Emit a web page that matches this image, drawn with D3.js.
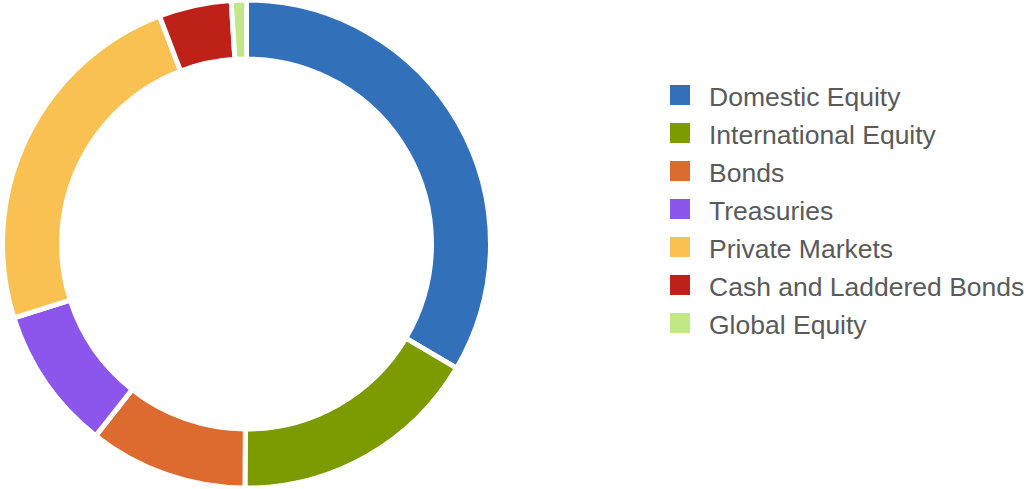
<!DOCTYPE html>
<html>
<head>
<meta charset="utf-8">
<script src="https://cdn.jsdelivr.net/npm/d3@7/dist/d3.min.js"></script>
<style>
  html, body { margin: 0; padding: 0; background: #fff; }
  svg { display: block; }
</style>
</head>
<body>
<svg id="chart" width="1024" height="489"></svg>
<script>
const categories = ["Domestic Equity", "International Equity", "Bonds", "Treasuries", "Private Markets", "Cash and Laddered Bonds", "Global Equity"];
const values = [33.5, 16.6, 10.5, 9.5, 24.1, 4.8, 1.0];
const colors = ["#3270B9", "#7B9B00", "#DD6B30", "#8C55EC", "#F9C052", "#BE2117", "#C0E886"];

const svg = d3.select("#chart");
const cx = 246.5, cy = 244, outerR = 244, innerR = 185;

const data = categories.map((c, i) => ({ name: c, value: values[i], color: colors[i] }));
const pie = d3.pie().value(d => d.value).sort(null);
const arc = d3.arc().innerRadius(innerR).outerRadius(outerR);

svg.append("g")
  .attr("transform", `translate(${cx},${cy})`)
  .selectAll("path")
  .data(pie(data))
  .join("path")
  .attr("d", arc)
  .attr("fill", d => d.data.color)
  .attr("stroke", "#fff")
  .attr("stroke-width", 5)
  .attr("stroke-linejoin", "miter");

const legendY = d3.scaleBand().domain(categories).range([76, 76 + 38 * categories.length]);
const legend = svg.append("g");
const rows = legend.selectAll("g").data(data).join("g")
  .attr("transform", d => `translate(670,${legendY(d.name) + 19})`);
rows.append("rect").attr("x", 0).attr("y", -10).attr("width", 20).attr("height", 20).attr("fill", d => d.color);
rows.append("text")
  .attr("x", 39).attr("y", 11)
  .style("font-family", "'Liberation Sans', Arial, sans-serif")
  .attr("font-size", 26.5)
  .attr("fill", "#5a5a5a")
  .text(d => d.name);
</script>
</body>
</html>
